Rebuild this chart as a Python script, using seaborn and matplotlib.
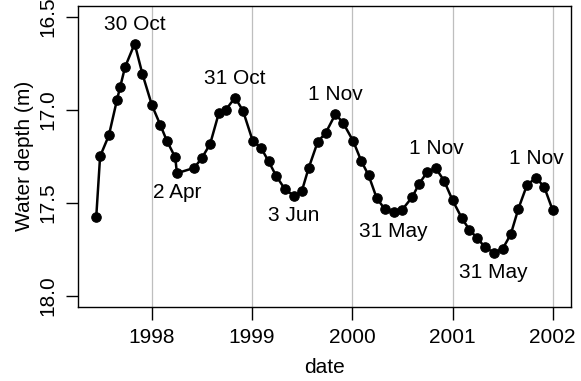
import matplotlib
matplotlib.use("Agg")
import matplotlib.pyplot as plt
import matplotlib.dates as mdates
import pandas as pd
import seaborn as sns

# Sampling dates and measured water depth (m below reference)
dates = [
    "1997-06-12", "1997-06-26", "1997-07-28", "1997-08-26", "1997-09-07", "1997-09-25",
    "1997-10-30", "1997-11-27", "1998-01-01", "1998-01-31", "1998-02-24", "1998-03-27",
    "1998-04-02", "1998-06-04", "1998-07-01", "1998-08-01", "1998-09-02", "1998-09-28",
    "1998-10-31", "1998-11-29", "1999-01-03", "1999-02-02", "1999-03-02", "1999-03-30",
    "1999-04-30", "1999-06-03", "1999-07-01", "1999-07-26", "1999-08-28", "1999-09-27",
    "1999-11-01", "1999-11-29", "2000-01-05", "2000-02-03", "2000-03-01", "2000-03-30",
    "2000-04-28", "2000-05-31", "2000-07-01", "2000-08-07", "2000-08-31", "2000-10-01",
    "2000-11-01", "2000-12-01", "2001-01-01", "2001-02-04", "2001-03-03", "2001-03-30",
    "2001-04-29", "2001-05-31", "2001-07-02", "2001-08-01", "2001-08-29", "2001-09-29",
    "2001-11-01", "2001-12-01", "2002-01-01",
]
depth = [
    17.575, 17.250, 17.137, 16.949, 16.877, 16.769,
    16.643, 16.805, 16.975, 17.079, 17.165, 17.256,
    17.341, 17.312, 17.261, 17.184, 17.016, 16.998,
    16.933, 17.005, 17.165, 17.203, 17.276, 17.356,
    17.425, 17.464, 17.439, 17.314, 17.173, 17.122,
    17.022, 17.070, 17.169, 17.275, 17.353, 17.474,
    17.533, 17.549, 17.538, 17.469, 17.400, 17.333,
    17.314, 17.382, 17.487, 17.584, 17.645, 17.688,
    17.739, 17.769, 17.749, 17.670, 17.531, 17.405,
    17.365, 17.415, 17.541,
]

# Annotated turning points: date, text, placement
label_dates = ["1997-10-30", "1998-04-02", "1998-10-31", "1999-06-03", "1999-11-01",
               "2000-05-31", "2000-11-01", "2001-05-31", "2001-11-01"]
label_text = ["30 Oct", "2 Apr", "31 Oct", "3 Jun", "1 Nov",
              "31 May", "1 Nov", "31 May", "1 Nov"]
label_side = ["above", "below", "above", "below", "above",
              "below", "above", "below", "above"]

year_ticks = [1998, 1999, 2000, 2001, 2002]
depth_ticks = [16.5, 17.0, 17.5, 18.0]

sns.set_style("ticks")
plt.rcParams["font.family"] = ["Liberation Sans", "DejaVu Sans"]
plt.rcParams["axes.labelcolor"] = "black"
plt.rcParams["text.color"] = "black"

df = pd.DataFrame({"date": pd.to_datetime(dates), "depth": depth})

fig = plt.figure(figsize=(5.81, 3.81), dpi=100)
W, H = 581, 381
ax = fig.add_axes([78 / W, 1 - 306.7 / H, (571 - 78) / W, (306.7 - 6) / H])

# yearly reference lines
for yr in year_ticks:
    ax.axvline(pd.Timestamp(f"{yr}-01-01"), color="#BEBEBE", lw=0.9, zorder=0)

sns.lineplot(data=df, x="date", y="depth", ax=ax, color="black", lw=1.8,
             marker="o", markersize=6.8, markeredgecolor="black",
             markeredgewidth=0.8, zorder=3)

# axis ranges padded by 4% of the span
xnum = mdates.date2num(df["date"])
span = xnum.max() - xnum.min()
ax.set_xlim(xnum.min() - 0.04 * span, xnum.max() + 0.04 * span)
ax.set_ylim(18.0 + 0.06, 16.5 - 0.06)

ax.set_xticks([pd.Timestamp(f"{y}-01-01") for y in year_ticks])
ax.set_xticklabels([str(y) for y in year_ticks])
ax.set_yticks(depth_ticks)
ax.set_yticklabels([f"{v:.1f}" for v in depth_ticks], rotation=90, va="center")

ax.tick_params(axis="both", length=9, width=1.0, color="black", pad=6,
               labelsize=15, labelcolor="black")
for sp in ax.spines.values():
    sp.set_visible(True)
    sp.set_color("black")
    sp.set_linewidth(1.0)

ax.set_xlabel("date", fontsize=15, labelpad=8, color="black")
ax.set_ylabel("Water depth (m)", fontsize=15, labelpad=3, color="black")

lookup = dict(zip(df["date"], df["depth"]))
for d, txt, side in zip(label_dates, label_text, label_side):
    t = pd.Timestamp(d)
    off = 14 if side == "above" else -14
    ax.annotate(txt, xy=(t, lookup[t]), xytext=(0, off), textcoords="offset points",
                ha="center", va="center", fontsize=15, color="black")

fig.savefig("out.png", dpi=100)
